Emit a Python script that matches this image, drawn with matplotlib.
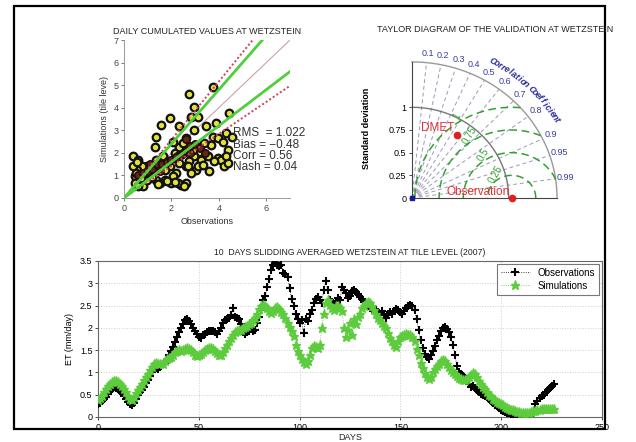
import numpy as np
import matplotlib
matplotlib.use("Agg")
import matplotlib.pyplot as plt
from matplotlib.patches import Rectangle

plt.rcParams['font.family'] = ['Liberation Sans', 'DejaVu Sans']

# ---------------- data ----------------
# scatter: daily cumulated values (observations vs simulations)
scatter_obs = [3.74, 2.76, 2.97, 2.83, 3.11, 4.44, 1.92, 1.58, 2.34, 1.37, 1.30, 3.46, 3.88,
               2.97, 2.62, 3.74, 3.95, 4.30, 4.16, 4.37, 3.67, 3.39, 3.18, 2.97, 3.25, 3.53,
               3.95, 4.09, 4.23, 4.37, 3.60, 3.04, 2.76, 2.62, 2.62, 2.41, 2.20, 2.06, 1.92,
               1.72, 1.51, 1.37, 1.16, 0.95, 0.74, 0.53, 0.39, 0.39, 0.60, 0.46, 0.46, 0.81,
               0.60, 0.95, 1.09, 1.37, 1.65, 2.13, 2.27, 2.48, 2.34, 1.85, 2.90, 2.34, 2.06,
               2.48, 2.69, 2.83, 3.11, 2.27, 1.99, 1.72, 4.30, 3.81, 4.57, 0.50, 0.70, 1.20,
               1.45, 1.80, 2.55, 3.35, 0.55, 1.00, 2.15]
scatter_sim = [4.93, 4.60, 4.05, 3.61, 3.61, 3.76, 3.53, 3.24, 3.17, 2.72, 2.28, 3.17, 3.31,
               3.02, 2.65, 2.72, 2.65, 2.87, 2.50, 2.14, 2.36, 2.43, 2.06, 1.84, 1.69, 1.84,
               1.77, 1.69, 1.40, 1.55, 1.18, 1.25, 1.62, 1.40, 0.66, 0.59, 1.10, 0.96, 1.40,
               1.25, 0.66, 0.81, 1.10, 1.40, 1.40, 1.25, 1.40, 1.84, 1.69, 0.96, 0.66, 0.52,
               0.52, 0.81, 1.03, 1.69, 1.84, 1.99, 1.84, 1.99, 1.55, 1.62, 2.14, 2.28, 2.50,
               2.43, 1.40, 1.10, 1.40, 0.66, 0.66, 0.81, 1.84, 1.62, 2.72, 1.10, 0.90, 0.95,
               0.60, 0.75, 0.55, 1.45, 1.60, 1.15, 0.70]
cluster_obs = [0.6, 0.8, 1.0, 1.2, 1.4, 1.6, 1.8, 2.0, 2.2, 2.4, 2.6, 2.8, 3.0, 3.2, 3.4, 2.6, 2.8, 1.1, 1.5]
cluster_sim = [1.0, 1.1, 1.2, 1.3, 1.5, 1.5, 1.6, 1.7, 1.8, 1.9, 2.1, 2.3, 2.4, 2.2, 2.0, 2.6, 2.0, 1.5, 1.2]
slope_green = [1.20, 0.80]
slope_red = [1.29, 0.71]
stats_lines = ["RMS  = 1.022", "Bias = \u22120.48", "Corr = 0.56", "Nash = 0.04"]

# Taylor diagram
obs_std = 1.03
dmet_std = 0.84
dmet_corr = 0.56
corr_ticks = [0.1, 0.2, 0.3, 0.4, 0.5, 0.6, 0.7, 0.8, 0.9, 0.95, 0.99]
corr_labels = ["0.1", "0.2", "0.3", "0.4", "0.5", "0.6", "0.7", "0.8", "0.9", "0.95", "0.99"]
std_ticks = [0, 0.25, 0.5, 0.75, 1]
std_ticklabels = ["0", "0.25", "0.5", "0.75", "1"]
rms_levels = [0.25, 0.5, 0.75, 1.0]
rms_labels = ["0.25", "0.5", "0.75", "1"]
std_max = 1.5

# time series (10-day sliding average)
obs_et = [0.30, 0.32, 0.36, 0.40, 0.45, 0.52, 0.58, 0.63, 0.67, 0.66, 0.62, 0.58, 0.53, 0.48, 0.41,
          0.34, 0.30, 0.28, 0.31, 0.40, 0.50, 0.55, 0.60, 0.68, 0.76, 0.83, 0.92, 1.02, 1.12, 1.10,
          1.08, 1.12, 1.18, 1.22, 1.28, 1.38, 1.48, 1.57, 1.68, 1.80, 1.90, 2.00, 2.08, 2.17, 2.20,
          2.15, 2.08, 2.00, 1.93, 1.87, 1.80, 1.78, 1.83, 1.86, 1.90, 1.92, 1.94, 1.93, 1.90, 1.86,
          1.92, 2.00, 2.10, 2.17, 2.20, 2.22, 2.28, 2.45, 2.25, 2.22, 2.20, 2.08, 1.90, 1.86, 1.90,
          1.93, 1.98, 1.92, 1.96, 2.10, 2.25, 2.40, 2.62, 2.72, 2.92, 3.10, 3.30, 3.40, 3.45, 3.42,
          3.38, 3.40, 3.22, 3.20, 3.15, 2.90, 2.65, 2.50, 2.32, 2.20, 2.12, 2.18, 1.88, 2.20, 2.15,
          2.30, 2.40, 2.55, 2.65, 2.70, 2.62, 2.56, 2.85, 3.05, 2.85, 2.62, 2.58, 2.52, 2.60, 2.68,
          2.62, 2.92, 2.85, 2.78, 2.66, 2.72, 2.82, 2.85, 2.80, 2.75, 2.70, 2.65, 2.58, 2.55, 2.50,
          2.45, 2.42, 2.38, 2.40, 2.35, 2.30, 2.38, 2.28, 2.22, 2.30, 2.35, 2.32, 2.38, 2.42, 2.40,
          2.35, 2.30, 2.38, 2.45, 2.50, 2.52, 2.50, 2.40, 2.20, 1.95, 1.72, 1.55, 1.42, 1.35, 1.30,
          1.38, 1.48, 1.60, 1.72, 1.82, 1.92, 2.00, 2.02, 1.98, 1.90, 1.80, 1.62, 1.40, 1.15, 1.02,
          0.96, 0.92, 0.88, 0.82, 0.75, 0.68, 0.70, 0.66, 0.60, 0.56, 0.52, 0.50, 0.47, 0.44, 0.41,
          0.37, 0.32, 0.28, 0.24, 0.20, 0.16, 0.13, 0.11, 0.09, 0.08, 0.07, 0.07, 0.06, 0.05, 0.05,
          0.04, 0.04, 0.04, 0.05, 0.05, 0.06, 0.08, 0.30, 0.36, 0.42, 0.46, 0.50, 0.55, 0.60, 0.66,
          0.70, 0.74]
sim_et = [0.38, 0.42, 0.48, 0.55, 0.62, 0.70, 0.75, 0.78, 0.80, 0.80, 0.78, 0.75, 0.70, 0.63, 0.55,
          0.47, 0.40, 0.38, 0.45, 0.53, 0.60, 0.68, 0.75, 0.83, 0.90, 0.97, 1.05, 1.12, 1.20, 1.22,
          1.20, 1.18, 1.20, 1.25, 1.30, 1.32, 1.35, 1.40, 1.45, 1.48, 1.50, 1.48, 1.50, 1.53, 1.55,
          1.53, 1.50, 1.45, 1.40, 1.37, 1.38, 1.42, 1.46, 1.50, 1.52, 1.54, 1.55, 1.52, 1.48, 1.43,
          1.40, 1.39, 1.45, 1.55, 1.62, 1.70, 1.78, 1.85, 1.90, 1.93, 1.95, 1.96, 2.00, 2.02, 2.05,
          2.08, 2.12, 2.18, 2.22, 2.32, 2.42, 2.48, 2.52, 2.50, 2.45, 2.38, 2.33, 2.38, 2.45, 2.47,
          2.42, 2.35, 2.30, 2.22, 2.12, 2.02, 1.92, 1.82, 1.62, 1.48, 1.38, 1.30, 1.24, 1.20, 1.25,
          1.40, 1.54, 1.60, 1.58, 1.55, 1.62, 2.00, 2.32, 2.55, 2.62, 2.52, 2.45, 2.40, 2.48, 2.50,
          2.45, 2.38, 2.00, 1.80, 1.95, 2.10, 1.85, 2.20, 2.08, 2.25, 2.30, 2.45, 2.50, 2.55, 2.58,
          2.55, 2.48, 2.40, 2.30, 2.22, 2.17, 2.12, 2.05, 2.00, 1.88, 1.78, 1.70, 1.62, 1.58, 1.70,
          1.80, 1.82, 1.85, 1.86, 1.85, 1.84, 1.80, 1.70, 1.52, 1.38, 1.22, 1.10, 0.98, 0.90, 0.86,
          0.90, 1.00, 1.08, 1.15, 1.20, 1.25, 1.27, 1.25, 1.18, 1.12, 1.05, 1.00, 0.96, 0.92, 0.88,
          0.86, 0.84, 0.82, 0.85, 0.90, 0.95, 0.98, 0.97, 0.90, 0.80, 0.75, 0.68, 0.62, 0.56, 0.50,
          0.46, 0.41, 0.38, 0.34, 0.31, 0.29, 0.26, 0.23, 0.21, 0.18, 0.16, 0.15, 0.13, 0.12, 0.11,
          0.10, 0.09, 0.09, 0.09, 0.10, 0.12, 0.13, 0.14, 0.15, 0.16, 0.17, 0.18, 0.18, 0.19, 0.19,
          0.19, 0.19]
days = list(range(len(obs_et)))

# ---------------- figure ----------------
W, H = 636, 442
fig = plt.figure(figsize=(W / 100, H / 100), dpi=100)


def px_axes(l, t, r, b):
    return fig.add_axes([l / W, 1 - b / H, (r - l) / W, (b - t) / H])


fig.add_artist(Rectangle((14 / W, 1 - 429 / H), (605 - 14) / W, (429 - 6) / H,
                         transform=fig.transFigure, fill=False, ec='black', lw=1.6))

# ---- scatter panel ----
ax1 = px_axes(124, 40, 290, 198)
ax1.set_xlim(0, 7)
ax1.set_ylim(0, 7)
for s in ['top', 'right']:
    ax1.spines[s].set_visible(False)
for s in ['left', 'bottom']:
    ax1.spines[s].set_color('#999999')
    ax1.spines[s].set_linewidth(0.7)
ax1.set_xticks([0, 2, 4, 6])
ax1.set_yticks(range(8))
ax1.tick_params(labelsize=6.5, length=2, width=0.5, colors='#444444', pad=2)
xx = np.array([0, 7.0])
ax1.plot(xx, xx, color='#c9a3a3', lw=0.8, zorder=1)
for sl in slope_red:
    ax1.plot(xx, sl * xx, color='#d0405a', lw=1.4, ls=(0, (1, 1.2)), zorder=4)
ax1.scatter(scatter_obs, scatter_sim, s=30, c='#e2e23a', edgecolors='#111111', linewidths=1.6, zorder=2)
ax1.scatter(cluster_obs, cluster_sim, s=28, c='#5a2a1a', edgecolors='#2a0a0a', linewidths=1.2, zorder=2)
for sl in slope_green:
    ax1.plot(xx, sl * xx, color='#4fcf3c', lw=2.0, zorder=5)
ax1.set_title("DAILY CUMULATED VALUES AT WETZSTEIN", fontsize=6.5, pad=4, color='#222222')
ax1.set_xlabel("Observations", fontsize=6.5, labelpad=3, color='#333333')
ax1.set_ylabel("Simulations (tile leve)", fontsize=6.5, labelpad=3, color='#333333')
for i, line in enumerate(stats_lines):
    ax1.text(4.6, 2.87 - i * 0.5, line, fontsize=8.5, color='#333333', va='center', ha='left',
             clip_on=False, zorder=6)

# ---- Taylor diagram ----
sx, sy = 96.7, 90.7
ox, oy = 412, 198
xl = (-0.1, 1.75)
yl = (-0.08, 1.62)
ax2 = px_axes(ox + xl[0] * sx, oy - yl[1] * sy, ox + xl[1] * sx, oy - yl[0] * sy)
ax2.set_xlim(*xl)
ax2.set_ylim(*yl)
for s in ['top', 'right']:
    ax2.spines[s].set_visible(False)
ax2.spines['left'].set_position(('data', 0))
ax2.spines['bottom'].set_position(('data', 0))
ax2.spines['left'].set_bounds(0, std_max)
ax2.spines['bottom'].set_bounds(0, std_max)
for s in ['left', 'bottom']:
    ax2.spines[s].set_color('#444444')
    ax2.spines[s].set_linewidth(0.8)
ax2.set_xticks([])
ax2.set_yticks(std_ticks)
ax2.set_yticklabels(std_ticklabels)
ax2.tick_params(axis='y', labelsize=6.5, length=2, width=0.5, pad=2)
th = np.linspace(0, np.pi / 2, 200)
for r, c in [(std_max, '#999999'), (1.0, '#777777')]:
    ax2.plot(r * np.cos(th), r * np.sin(th), color=c, lw=1.0, zorder=2)
for c, lab in zip(corr_ticks, corr_labels):
    a = np.arccos(c)
    ax2.plot([0, std_max * np.cos(a)], [0, std_max * np.sin(a)], color='#9a9ab8', lw=0.7,
             ls=(0, (4, 3)), zorder=1)
    ax2.text(1.6 * np.cos(a), 1.6 * np.sin(a), lab, fontsize=6.5, color='#3a3aaa',
             ha='center', va='center', clip_on=False)
phi = np.linspace(0, np.pi, 400)
for r, lab in zip(rms_levels, rms_labels):
    xs = obs_std + r * np.cos(phi)
    ys = r * np.sin(phi)
    m = np.hypot(xs, ys) <= std_max
    xs = np.where(m, xs, np.nan)
    ax2.plot(xs, ys, color='#34a034', lw=1.1, ls=(0, (5, 3)), zorder=3)
    la = np.deg2rad(122)
    ax2.text(obs_std + (r + 0.06) * np.cos(la), (r + 0.06) * np.sin(la), lab, fontsize=7,
             color='#34a034', rotation=60, ha='center', va='center', zorder=4)
# Correlation Coefficient along arc
cc = "Correlation Coefficient"
angs = np.linspace(61, 30, len(cc))
for ch, ang in zip(cc, angs):
    a = np.deg2rad(ang)
    ax2.text(1.72 * np.cos(a), 1.72 * np.sin(a), ch, fontsize=6.5, color='#2a2aa0',
             fontweight='bold', fontstyle='italic', rotation=ang - 90,
             ha='center', va='center', clip_on=False)
dx = dmet_std * dmet_corr
dy = dmet_std * np.sqrt(1 - dmet_corr ** 2)
ax2.plot([obs_std], [0], 'o', color='#e02020', ms=4.5, zorder=6, clip_on=False)
ax2.plot([dx], [dy], 'o', color='#e02020', ms=4.5, zorder=6)
ax2.plot([0], [0], 's', color='#1a1a99', ms=3, zorder=6, clip_on=False)
ax2.text(dx - 0.03, dy + 0.08, "DMET", fontsize=8.5, color='#dd3333', ha='right', va='center', zorder=7)
ax2.text(obs_std - 0.02, 0.07, "Observation", fontsize=8.5, color='#dd3333', ha='right', va='center', zorder=7)
ax2.set_ylabel("Standard deviation", fontsize=6.5, fontweight='bold', labelpad=2)
ax2.yaxis.set_label_coords(-0.1 / (xl[1] - xl[0]) - 0.12, 0.5)
fig.text(495 / W, 1 - 29 / H, "TAYLOR DIAGRAM OF THE VALIDATION AT WETZSTEIN", fontsize=6.5,
         ha='center', va='center', color='#222222')

# ---- time series ----
ax3 = px_axes(98, 261, 602, 417)
ax3.plot(days, obs_et, color='black', ls=':', lw=0.6, marker='+', ms=6, mew=1.5,
         label='Observations', zorder=3)
ax3.plot(days, sim_et, color='#5ccc3c', ls=':', lw=0.6, marker='*', ms=6.5, mew=1.0,
         label='Simulations', zorder=4)
ax3.set_xlim(0, 250)
ax3.set_ylim(0, 3.5)
ax3.set_xticks([0, 50, 100, 150, 200, 250])
ax3.set_yticks([0, 0.5, 1, 1.5, 2, 2.5, 3, 3.5])
ax3.set_yticklabels(["0", "0.5", "1", "1.5", "2", "2.5", "3", "3.5"])
ax3.grid(True, color='#cfcfcf', ls=':', lw=0.7)
ax3.tick_params(labelsize=6.5, length=2, width=0.5, pad=2)
for s in ax3.spines.values():
    s.set_color('#666666')
    s.set_linewidth(0.8)
ax3.set_title("10  DAYS SLIDDING AVERAGED WETZSTEIN AT TILE LEVEL (2007)", fontsize=6.2, pad=4,
              color='#222222')
ax3.set_ylabel("ET (mm/day)", fontsize=6.5, labelpad=4)
fig.text(350 / W, 1 - 437 / H, "DAYS", fontsize=6.5, ha='center', va='center', color='#222222')
leg = ax3.legend(loc='upper right', fontsize=7, frameon=True, fancybox=False, edgecolor='#555555',
                 handlelength=3, borderaxespad=0.3, labelspacing=0.3, borderpad=0.4)
leg.get_frame().set_linewidth(0.8)

fig.savefig("out.png", dpi=100, facecolor='white')
